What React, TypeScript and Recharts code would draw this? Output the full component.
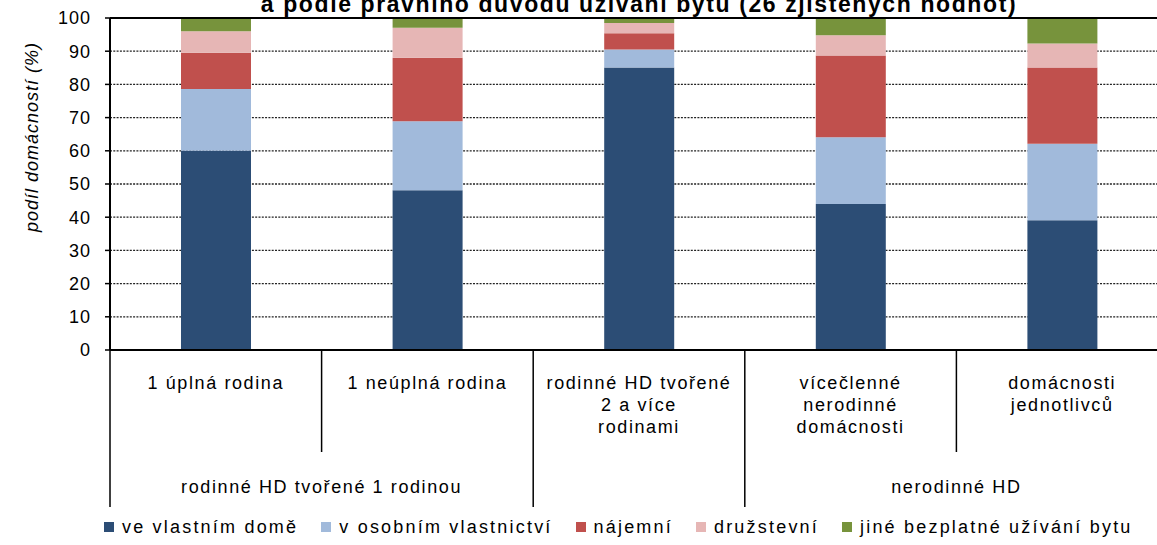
import React from 'react'
import { BarChart, Bar, XAxis, YAxis, CartesianGrid, Legend, ReferenceLine } from 'recharts'

const categories = [
  '1 úplná rodina',
  '1 neúplná rodina',
  'rodinné HD tvořené\n2 a více\nrodinami',
  'vícečlenné\nnerodinné\ndomácnosti',
  'domácnosti\njednotlivců',
]
const groupLabels = ['rodinné HD tvořené 1 rodinou', '', 'nerodinné HD']
const groupSpans = [2, 1, 2]

const seriesNames = [
  've vlastním domě',
  'v osobním vlastnictví',
  'nájemní',
  'družstevní',
  'jiné bezplatné užívání bytu',
]
const vlastniDum = [60.0, 48.1, 85.1, 44.0, 39.1]
const osobniVlastnictvi = [18.6, 20.8, 5.4, 20.1, 23.0]
const najemni = [10.9, 19.1, 4.9, 24.6, 23.0]
const druzstevni = [6.5, 9.1, 3.1, 6.1, 7.2]
const jine = [4.0, 2.9, 1.5, 5.2, 7.7]
const yTicks = [0, 10, 20, 30, 40, 50, 60, 70, 80, 90, 100]

const colors = ['#2C4D75', '#A1BADB', '#C0504D', '#E6B6B5', '#77933C']
const seriesValues = [vlastniDum, osobniVlastnictvi, najemni, druzstevni, jine]

const data = categories.map((name, i) => {
  const row: Record<string, string | number> = { name }
  seriesNames.forEach((s, j) => {
    row[s] = seriesValues[j][i]
  })
  return row
})

const FONT = '"Liberation Sans", Arial, sans-serif'
const CHART_W = 1180
const CHART_H = 545
const MARGIN = { top: 18, right: 12, left: 0, bottom: 0 }
const Y_W = 110
const BAND = (CHART_W - MARGIN.left - MARGIN.right - Y_W) / categories.length

// start index of every group
const groupStarts: number[] = []
groupSpans.reduce((acc, span) => {
  groupStarts.push(acc)
  return acc + span
}, 0)

// eslint-disable-next-line @typescript-eslint/no-explicit-any
function CategoryTick(props: any) {
  const { x, y, index } = props
  const lines = categories[index].split('\n')
  const g = groupStarts.indexOf(index)
  const left = x - BAND / 2
  const isLast = index === categories.length - 1
  return (
    <g>
      <line x1={left} y1={y} x2={left} y2={y + (g >= 0 ? 157 : 102)} stroke="#000" strokeWidth={1.5} />
      {isLast && <line x1={x + BAND / 2} y1={y} x2={x + BAND / 2} y2={y + 157} stroke="#000" strokeWidth={1.5} />}
      <text x={x} y={y + 39} textAnchor="middle" fontSize={18} fontFamily={FONT} fill="#000" style={{ letterSpacing: 1.6 }}>
        {lines.map((l, k) => (
          <tspan key={k} x={x} dy={k === 0 ? 0 : 22}>{l}</tspan>
        ))}
      </text>
      {g >= 0 && groupLabels[g] && (
        <text x={left + (groupSpans[g] * BAND) / 2} y={y + 143} textAnchor="middle" fontSize={18} fontFamily={FONT} fill="#000" style={{ letterSpacing: 1.6 }}>
          {groupLabels[g]}
        </text>
      )}
    </g>
  )
}

function LegendContent() {
  return (
    <div style={{ display: 'flex', alignItems: 'center', height: 30, paddingBottom: 6, boxSizing: 'border-box', fontFamily: FONT, fontSize: 18, letterSpacing: 2.2, color: '#000', whiteSpace: 'nowrap' }}>
      {seriesNames.map((s, i) => (
        <div key={s} style={{ display: 'flex', alignItems: 'center', marginRight: 23 }}>
          <span style={{ width: 10, height: 10, background: colors[i], marginRight: 8, flexShrink: 0 }} />
          <span>{s}</span>
        </div>
      ))}
    </div>
  )
}

export default function App() {
  return (
    <div style={{ position: 'absolute', left: 0, top: 0, width: 1157, height: 545, overflow: 'hidden', background: '#fff' }}>
      <svg style={{ position: 'absolute', left: 0, top: 0 }} width={1157} height={20}>
        <text x={MARGIN.left + Y_W + (CHART_W - MARGIN.left - MARGIN.right - Y_W) / 2} y={12} textAnchor="middle" fontSize={23} fontWeight="bold" fontFamily={FONT} fill="#000" style={{ letterSpacing: 1.6 }}>
          a podle právního důvodu užívání bytu (26 zjištěných hodnot)
        </text>
      </svg>
      <BarChart width={CHART_W} height={CHART_H} data={data} margin={MARGIN} barCategoryGap={71}>
        <CartesianGrid vertical={false} stroke="#222" strokeDasharray="2 1.3" strokeWidth={1.3} />
        <XAxis
          dataKey="name"
          tickLine={false}
          tickSize={0}
          tickMargin={0}
          interval={0}
          height={165}
          axisLine={{ stroke: '#000', strokeWidth: 2 }}
          tick={<CategoryTick />}
        />
        <YAxis
          width={Y_W}
          domain={[0, 100]}
          ticks={yTicks}
          interval={0}
          tickSize={5}
          tickMargin={14}
          axisLine={{ stroke: '#000', strokeWidth: 2 }}
          tickLine={{ stroke: '#000', strokeWidth: 1.5 }}
          tick={{ fill: '#000', fontSize: 18, fontFamily: FONT, style: { letterSpacing: 1 } }}
          label={{
            value: 'podíl domácností (%)',
            angle: -90,
            position: 'insideLeft',
            offset: 32,
            dy: -47,
            style: { fontStyle: 'italic', fontSize: 18, fontFamily: FONT, fill: '#000', textAnchor: 'middle', letterSpacing: 1 },
          }}
        />
        <ReferenceLine y={100} stroke="#000" strokeWidth={2} />
        {seriesNames.map((s, i) => (
          <Bar key={s} dataKey={s} stackId="a" fill={colors[i]} isAnimationActive={false} />
        ))}
        <Legend
          verticalAlign="bottom"
          content={<LegendContent />}
          wrapperStyle={{ left: 104, bottom: 0, width: 1100, height: 30 }}
        />
      </BarChart>
    </div>
  )
}
